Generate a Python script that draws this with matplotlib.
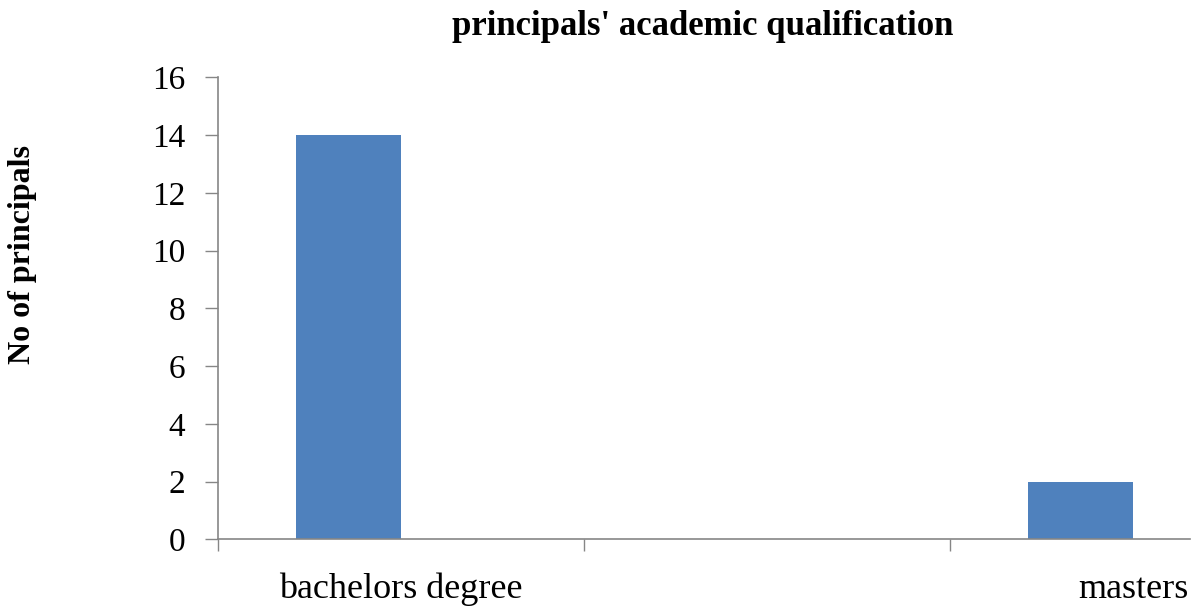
import numpy as np
import matplotlib.pyplot as plt

# Data
categories = ['bachelors degree', '', 'masters']
counts = [14, 0, 2]
y_ticks = [0, 2, 4, 6, 8, 10, 12, 14, 16]

bar_color = '#4F81BD'
axis_color = '#868686'

plt.rcParams['font.family'] = ['Liberation Serif', 'DejaVu Serif']

fig = plt.figure(figsize=(12.02, 6.06), dpi=100)
ax = fig.add_axes([218 / 1202, 1 - 539.3 / 606, (1190 - 218) / 1202, (539.3 - 77.3) / 606])

x = np.arange(len(categories))
width = 1 / 3.5
# bars sit on the left half of each category slot (first of two series)
ax.bar(x - width, counts, width=width, align='edge', color=bar_color, linewidth=0)

ax.set_xlim(-0.5, -0.5 + (1190 - 218) / 366)
ax.set_ylim(0, 16)

# major ticks between categories, labels at category centres
ax.set_xticks(np.arange(len(categories)) - 0.5)
ax.set_xticklabels([])
ax.set_xticks(x, minor=True)
ax.set_xticklabels(categories, minor=True, fontsize=26)
ax.tick_params(axis='x', which='major', length=8.5, width=1, color=axis_color, direction='out')
ax.tick_params(axis='x', which='minor', length=0, pad=24)

ax.set_yticks(y_ticks)
ax.set_yticklabels([str(v) for v in y_ticks], fontsize=24)
ax.tick_params(axis='y', length=9.5, width=1, color=axis_color, pad=14)

for side in ['top', 'right']:
    ax.spines[side].set_visible(False)
for side in ['left', 'bottom']:
    ax.spines[side].set_color(axis_color)
    ax.spines[side].set_linewidth(1.2)

fig.text(703 / 1202, 1 - 35 / 606, "principals' academic qualification",
         ha='center', va='baseline', fontsize=25, fontweight='bold')
fig.text(23 / 1202, 1 - 255 / 606, 'No of principals', rotation=90,
         ha='center', va='center', fontsize=23, fontweight='bold')

fig.savefig('out.png', dpi=100)
